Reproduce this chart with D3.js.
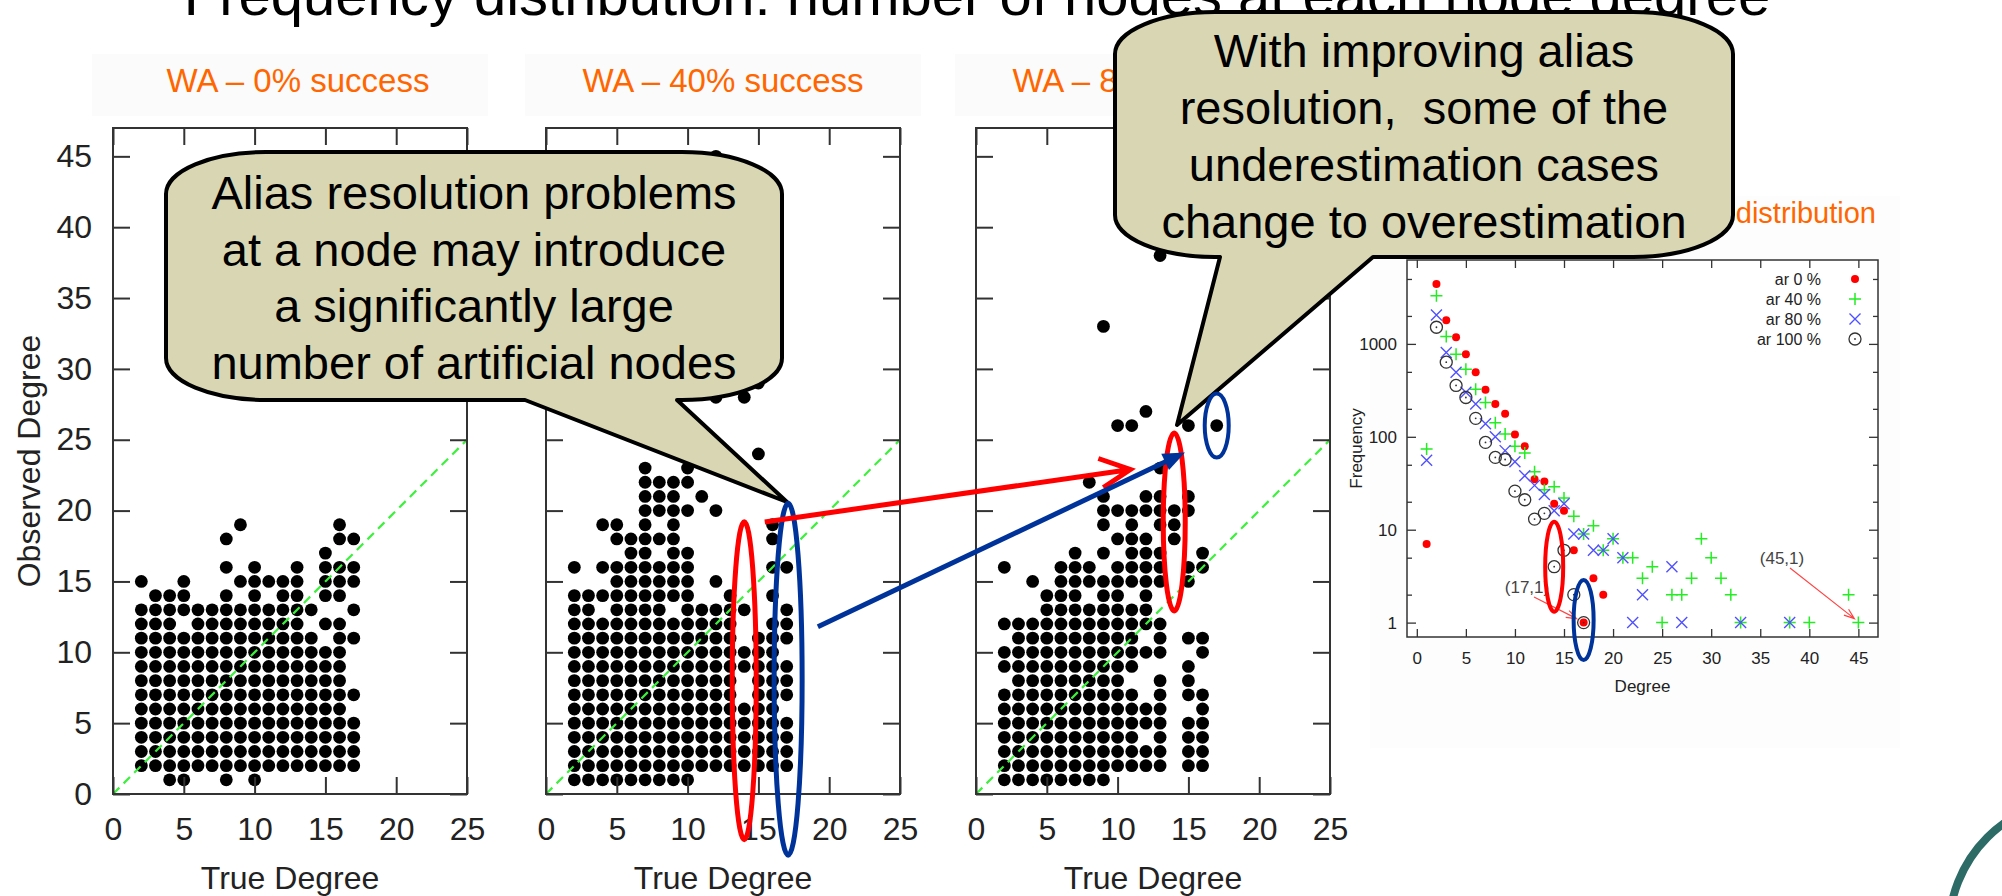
<!DOCTYPE html>
<html>
<head>
<meta charset="utf-8">
<script src="https://cdn.jsdelivr.net/npm/d3@7"></script>
<style>
body { margin: 0; background: #fff; }
svg text { font-family: "Liberation Sans", Arial, Helvetica, sans-serif; }
</style>
</head>
<body>
<svg id="slide" width="2002" height="896"></svg>
<script>
// ---- data ----
var slideTitle = "Frequency distribution: number of nodes at each node degree";
var panelTitles = ["WA \u2013 0% success", "WA \u2013 40% success", "WA \u2013 80% success"];
var trueTicks = [0, 5, 10, 15, 20, 25];
var obsTicks = [0, 5, 10, 15, 20, 25, 30, 35, 40, 45];

// each row: [observed degree, [true degrees that have a node]]
var wa0 = [
	[1, [4, 5, 8, 10]],
	[2, [2, 3, 4, 5, 6, 7, 8, 9, 10, 11, 12, 13, 14, 15, 16, 17]],
	[3, [2, 3, 4, 5, 6, 7, 8, 9, 10, 11, 12, 13, 14, 15, 16, 17]],
	[4, [2, 3, 4, 5, 6, 7, 8, 9, 10, 11, 12, 13, 14, 15, 16, 17]],
	[5, [2, 3, 4, 5, 6, 7, 8, 9, 10, 11, 12, 13, 14, 15, 16, 17]],
	[6, [2, 3, 4, 5, 6, 7, 8, 9, 10, 11, 12, 13, 14, 15, 16]],
	[7, [2, 3, 4, 5, 6, 7, 8, 9, 10, 11, 12, 13, 14, 15, 16, 17]],
	[8, [2, 3, 4, 5, 6, 7, 8, 9, 10, 11, 12, 13, 14, 15, 16]],
	[9, [2, 3, 4, 5, 6, 7, 8, 9, 10, 11, 12, 13, 14, 15, 16]],
	[10, [2, 3, 4, 5, 6, 7, 8, 9, 10, 11, 12, 13, 14, 15, 16]],
	[11, [2, 3, 4, 5, 6, 7, 8, 9, 10, 11, 12, 13, 14, 16, 17]],
	[12, [2, 3, 4, 6, 7, 8, 9, 10, 11, 12, 13, 15, 16]],
	[13, [2, 3, 4, 5, 6, 7, 8, 9, 10, 11, 12, 13, 14, 17]],
	[14, [3, 4, 5, 8, 10, 12, 13, 15, 16]],
	[15, [2, 5, 9, 10, 11, 12, 13, 15, 16, 17]],
	[16, [8, 10, 13, 15, 16, 17]],
	[17, [15]],
	[18, [8, 16, 17]],
	[19, [9, 16]]
];
var wa40 = [
	[1, [2, 3, 4, 5, 6, 7, 8, 9, 10]],
	[2, [2, 3, 4, 5, 6, 7, 8, 9, 10, 11, 12, 13, 14, 15, 16, 17]],
	[3, [2, 3, 4, 5, 6, 7, 8, 9, 10, 11, 12, 13, 14, 15, 16, 17]],
	[4, [2, 3, 4, 5, 6, 7, 8, 9, 10, 11, 12, 13, 14, 15, 16, 17]],
	[5, [2, 3, 4, 5, 6, 7, 8, 9, 10, 11, 12, 13, 14, 15, 16, 17]],
	[6, [2, 3, 4, 5, 6, 7, 8, 9, 10, 11, 12, 13, 14, 15, 16]],
	[7, [2, 3, 4, 5, 6, 7, 8, 9, 10, 11, 12, 13, 15, 16, 17]],
	[8, [2, 3, 4, 5, 6, 7, 8, 9, 10, 11, 12, 13, 15, 16, 17]],
	[9, [2, 3, 4, 5, 6, 7, 8, 9, 10, 11, 12, 13, 14, 15, 16, 17]],
	[10, [2, 3, 4, 5, 6, 7, 8, 9, 10, 11, 12, 13, 14, 15, 16]],
	[11, [2, 3, 4, 5, 6, 7, 8, 9, 10, 11, 12, 13, 15, 16, 17]],
	[12, [2, 3, 4, 5, 6, 7, 8, 9, 10, 11, 12, 13, 16, 17]],
	[13, [2, 3, 5, 6, 7, 8, 10, 11, 12, 13, 14, 17]],
	[14, [2, 3, 4, 5, 6, 7, 8, 9, 10, 13, 16]],
	[15, [5, 6, 7, 8, 9, 10, 12]],
	[16, [2, 4, 5, 6, 7, 8, 9, 10, 16, 17]],
	[17, [6, 7, 9, 10]],
	[18, [5, 6, 7, 8, 9, 16]],
	[19, [4, 5, 7, 9, 16]],
	[20, [7, 8, 9, 10, 12]],
	[21, [7, 8, 9, 11]],
	[22, [7, 8, 9, 10]],
	[23, [7, 10]],
	[24, [15]],
	[28, [12, 14]],
	[29, [15]],
	[45, [12]]
];
var wa80 = [
	[1, [2, 3, 4, 5, 6, 7, 8, 9]],
	[2, [2, 3, 4, 5, 6, 7, 8, 9, 10, 11, 12, 13, 15, 16]],
	[3, [2, 3, 4, 5, 6, 7, 8, 9, 10, 11, 12, 13, 15, 16]],
	[4, [2, 3, 4, 5, 6, 7, 8, 9, 10, 11, 13, 15, 16]],
	[5, [2, 3, 4, 5, 6, 7, 8, 9, 10, 11, 12, 13, 15, 16]],
	[6, [2, 3, 4, 5, 6, 7, 8, 9, 10, 11, 12, 13, 16]],
	[7, [2, 3, 4, 5, 6, 7, 8, 9, 10, 11, 13, 15, 16]],
	[8, [3, 4, 5, 6, 7, 8, 9, 10, 13, 15]],
	[9, [2, 3, 4, 5, 6, 7, 8, 9, 10, 11, 15]],
	[10, [2, 3, 4, 5, 6, 7, 8, 9, 10, 11, 12, 13, 16]],
	[11, [3, 4, 5, 6, 7, 8, 9, 10, 11, 13, 15, 16]],
	[12, [2, 3, 4, 5, 6, 7, 8, 9, 10, 11, 12, 13]],
	[13, [5, 6, 7, 8, 9, 10, 11, 12]],
	[14, [5, 6, 7, 9, 10, 12]],
	[15, [4, 6, 7, 8, 9, 10, 11, 12, 13, 15]],
	[16, [2, 6, 7, 8, 10, 11, 12, 13, 15, 16]],
	[17, [7, 9, 11, 12, 13, 16]],
	[18, [10, 11, 12, 14]],
	[19, [9, 11, 13, 14]],
	[20, [9, 10, 11, 12, 13, 14, 15]],
	[21, [9, 12, 13, 15]],
	[22, [8]],
	[23, [13]],
	[26, [10, 11, 15, 17]],
	[27, [12]],
	[33, [9]],
	[38, [13]]
];

// degree distribution (log scale), [degree, frequency]
var freqTitle = "Degree distribution";
var degTicks = [0, 5, 10, 15, 20, 25, 30, 35, 40, 45];
var freqTicks = [1, 10, 100, 1000];
var freqMinor = [2, 5, 20, 50, 200, 500, 2000, 5000];
var seriesNames = ["ar 0 %", "ar 40 %", "ar 80 %", "ar 100 %"];
var ar0 = [[1, 7], [2, 4400], [3, 1800], [4, 1180], [5, 775], [6, 496], [7, 320], [8, 226], [9, 177], [10, 106],
	[11, 79], [12, 35], [13, 33], [14, 19], [15, 16], [16, 6], [17, 1], [18, 3], [19, 2]];
var ar40 = [[1, 74], [2, 3300], [3, 1200], [4, 775], [5, 534], [6, 325], [7, 234], [8, 142], [9, 107], [10, 79],
	[11, 67], [12, 42], [13, 27], [14, 29], [15, 22], [16, 14], [17, 9], [18, 11], [19, 6], [20, 8],
	[21, 5], [22, 5], [23, 3], [24, 4], [25, 1], [26, 2], [27, 2], [28, 3], [29, 8], [30, 5],
	[31, 3], [32, 2], [33, 1], [38, 1], [40, 1], [44, 2], [45, 1]];
var ar80 = [[1, 56], [2, 2050], [3, 807], [4, 496], [5, 302], [6, 225], [7, 138], [8, 100], [9, 71], [10, 54],
	[11, 38], [12, 30], [13, 24], [14, 16], [15, 19], [16, 9], [17, 9], [18, 6], [19, 6], [20, 8],
	[21, 5], [22, 1], [23, 2], [26, 4], [27, 1], [33, 1], [38, 1]];
var ar100 = [[2, 1510], [3, 636], [4, 357], [5, 265], [6, 158], [7, 87], [8, 60], [9, 57], [10, 26],
	[11, 21], [12, 13], [13, 15], [14, 4], [15, 6], [16, 2], [17, 1]];

var callout1 = ["Alias resolution problems", "at a node may introduce", "a significantly large", "number of artificial nodes"];
var callout2 = ["With improving alias", "resolution,  some of the", "underestimation cases", "change to overestimation"];

// ---- drawing ----
var svg = d3.select("#slide");
var ORANGE = "#ff6600", AXIS = "#333", LABEL = "#222";
var RED = "#ff0000", BLUE = "#003399";

// slide title (cut off by the top edge)
svg.append("text")
	.attr("x", 977).attr("y", 15)
	.attr("text-anchor", "middle")
	.attr("font-size", 58)
	.text(slideTitle);

var panelLeft = [113, 546, 976],
	pw = 354, pTop = 128, pBottom = 794,
	panels = [wa0, wa40, wa80],
	px = [], py = [];

function styleAxis(sel, size) {
	sel.attr("font-size", size).attr("font-family", null).attr("color", LABEL);
	sel.select(".domain").remove();
	sel.selectAll("line").attr("stroke", AXIS).attr("stroke-width", 2);
}

panels.forEach(function (rows, i) {
	var left = panelLeft[i],
		x = d3.scaleLinear().domain([0, 25]).range([left, left + pw]),
		y = d3.scaleLinear().domain([0, 47]).range([pBottom, pTop]),
		g = svg.append("g");
	px.push(x); py.push(y);

	// faint title box and title
	g.append("rect")
		.attr("x", left - 21).attr("y", 54).attr("width", pw + 42).attr("height", 62)
		.attr("fill", "#fbfbfb");
	g.append("text")
		.attr("x", left + pw / 2 + (i === 0 ? 8 : 0)).attr("y", 92)
		.attr("text-anchor", "middle")
		.attr("font-size", 33)
		.attr("fill", ORANGE)
		.text(panelTitles[i]);

	var pts = [];
	rows.forEach(function (r) {
		r[1].forEach(function (d) { pts.push([d, r[0]]); });
	});

	g.append("g").selectAll("circle")
		.data(pts)
		.enter().append("circle")
		.attr("cx", function (d) { return x(d[0]); })
		.attr("cy", function (d) { return y(d[1]); })
		.attr("r", 6.4)
		.attr("fill", "#000");

	// y = x reference
	g.append("line")
		.attr("x1", x(0)).attr("y1", y(0))
		.attr("x2", x(25)).attr("y2", y(25))
		.attr("stroke", "#3cf03c").attr("stroke-width", 2.2)
		.attr("stroke-dasharray", "9,6");

	// axes, ticks pointing inwards on all four sides
	g.append("g").attr("transform", "translate(0," + pBottom + ")")
		.call(d3.axisBottom(x).tickValues(trueTicks).tickSizeInner(-17).tickSizeOuter(0).tickPadding(23))
		.call(styleAxis, 32);
	g.append("g").attr("transform", "translate(0," + pTop + ")")
		.call(d3.axisTop(x).tickValues(trueTicks).tickSizeInner(-17).tickSizeOuter(0).tickFormat(""))
		.call(styleAxis, 32);
	g.append("g").attr("transform", "translate(" + left + ",0)")
		.call(d3.axisLeft(y).tickValues(obsTicks).tickSizeInner(-17).tickSizeOuter(0).tickPadding(21)
			.tickFormat(i === 0 ? d3.format("d") : ""))
		.call(styleAxis, 32);
	g.append("g").attr("transform", "translate(" + (left + pw) + ",0)")
		.call(d3.axisRight(y).tickValues(obsTicks).tickSizeInner(-17).tickSizeOuter(0).tickFormat(""))
		.call(styleAxis, 32);

	g.append("rect")
		.attr("x", left).attr("y", pTop).attr("width", pw).attr("height", pBottom - pTop)
		.attr("fill", "none").attr("stroke", AXIS).attr("stroke-width", 2);

	g.append("text")
		.attr("x", left + pw / 2).attr("y", 889)
		.attr("text-anchor", "middle").attr("font-size", 32).attr("fill", LABEL)
		.text("True Degree");
	if (i === 0) {
		g.append("text")
			.attr("transform", "translate(40," + (pTop + pBottom) / 2 + ") rotate(-90)")
			.attr("text-anchor", "middle").attr("font-size", 32).attr("fill", LABEL)
			.text("Observed Degree");
	}
});

// ---- degree distribution chart ----
var fL = 1407, fR = 1878, fT = 260, fB = 637;
var xF = d3.scaleLinear().domain([-1, 47]).range([fL, fR]);
var yF = d3.scaleLog().domain([0.7, 8000]).range([fB, fT]);
var fg = svg.append("g");

fg.append("rect").attr("x", 1370).attr("y", 196).attr("width", 530).attr("height", 552).attr("fill", "#fdfdfd");
fg.append("text")
	.attr("x", 1876).attr("y", 223)
	.attr("text-anchor", "end").attr("font-size", 29).attr("fill", ORANGE)
	.text(freqTitle);
fg.append("rect").attr("x", fL).attr("y", fT).attr("width", fR - fL).attr("height", fB - fT).attr("fill", "#fff");

fg.append("g").attr("transform", "translate(0," + fB + ")")
	.call(d3.axisBottom(xF).tickValues(degTicks).tickSizeInner(-8).tickSizeOuter(0).tickPadding(15))
	.call(styleAxis, 17);
fg.append("g").attr("transform", "translate(0," + fT + ")")
	.call(d3.axisTop(xF).tickValues(degTicks).tickSizeInner(-8).tickSizeOuter(0).tickFormat(""))
	.call(styleAxis, 17);
fg.append("g").attr("transform", "translate(" + fL + ",0)")
	.call(d3.axisLeft(yF).tickValues(freqTicks).tickSizeInner(-9).tickSizeOuter(0).tickPadding(10).tickFormat(d3.format("d")))
	.call(styleAxis, 17);
fg.append("g").attr("transform", "translate(" + fR + ",0)")
	.call(d3.axisRight(yF).tickValues(freqTicks).tickSizeInner(-9).tickSizeOuter(0).tickFormat(""))
	.call(styleAxis, 17);
fg.append("g").attr("transform", "translate(" + fL + ",0)")
	.call(d3.axisLeft(yF).tickValues(freqMinor).tickSizeInner(-5).tickSizeOuter(0).tickFormat(""))
	.call(styleAxis, 17);
fg.append("g").attr("transform", "translate(" + fR + ",0)")
	.call(d3.axisRight(yF).tickValues(freqMinor).tickSizeInner(-5).tickSizeOuter(0).tickFormat(""))
	.call(styleAxis, 17);
fg.selectAll("line").attr("stroke-width", 1.3);
fg.append("rect").attr("x", fL).attr("y", fT).attr("width", fR - fL).attr("height", fB - fT)
	.attr("fill", "none").attr("stroke", AXIS).attr("stroke-width", 1.5);

fg.append("text").attr("x", (fL + fR) / 2).attr("y", 692)
	.attr("text-anchor", "middle").attr("font-size", 17).attr("fill", LABEL).text("Degree");
fg.append("text").attr("transform", "translate(1362," + (fT + fB) / 2 + ") rotate(-90)")
	.attr("text-anchor", "middle").attr("font-size", 17).attr("fill", LABEL).text("Frequency");

// point symbols
var symbols = [
	function (s) { s.append("circle").attr("r", 4).attr("fill", RED); },
	function (s) { s.append("path").attr("d", "M-6,0H6M0,-6V6").attr("stroke", "#22ee22").attr("stroke-width", 1.5); },
	function (s) { s.append("path").attr("d", "M-5.5,-5.5L5.5,5.5M-5.5,5.5L5.5,-5.5").attr("stroke", "#5050ff").attr("stroke-width", 1.4); },
	function (s) {
		s.append("circle").attr("r", 6).attr("fill", "none").attr("stroke", "#333").attr("stroke-width", 1.3);
		s.append("circle").attr("r", 0.9).attr("fill", "#333");
	}
];
[ar0, ar40, ar80, ar100].forEach(function (series, k) {
	fg.append("g").selectAll("g")
		.data(series)
		.enter().append("g")
		.attr("transform", function (d) { return "translate(" + xF(d[0]) + "," + yF(d[1]) + ")"; })
		.each(function () { symbols[k](d3.select(this)); });
});

// legend
var legend = fg.append("g").selectAll("g")
	.data(seriesNames)
	.enter().append("g")
	.attr("transform", function (d, i) { return "translate(0," + (279 + i * 20) + ")"; });
legend.append("text")
	.attr("x", 1821).attr("dy", "0.35em")
	.attr("text-anchor", "end").attr("font-size", 16).attr("fill", LABEL)
	.text(function (d) { return d; });
legend.each(function (d, i) {
	var s = d3.select(this).append("g").attr("transform", "translate(1855,0)");
	symbols[i](s);
});

// point annotations
function thinArrow(g, x1, y1, x2, y2) {
	var a = Math.atan2(y2 - y1, x2 - x1), h = 11;
	g.append("path")
		.attr("d", "M" + x1 + "," + y1 + "L" + x2 + "," + y2 +
			"M" + (x2 - h * Math.cos(a - 0.35)) + "," + (y2 - h * Math.sin(a - 0.35)) + "L" + x2 + "," + y2 +
			"L" + (x2 - h * Math.cos(a + 0.35)) + "," + (y2 - h * Math.sin(a + 0.35)))
		.attr("fill", "none").attr("stroke", "#ff4444").attr("stroke-width", 1.2);
}
fg.append("text").attr("x", 1527).attr("y", 593).attr("text-anchor", "middle").attr("font-size", 17).attr("fill", "#444").text("(17,1)");
thinArrow(fg, 1534, 597, xF(17) - 7, yF(1) - 4);
fg.append("text").attr("x", 1782).attr("y", 564).attr("text-anchor", "middle").attr("font-size", 17).attr("fill", "#444").text("(45,1)");
thinArrow(fg, 1790, 568, xF(45) - 4, yF(1) - 4);

// ---- callouts ----
function calloutPath(l, t, r, b, rx, ry, baseR, baseL, tip) {
	return "M" + (l + rx) + "," + t + "H" + (r - rx) +
		"A" + rx + "," + ry + " 0 0 1 " + r + "," + (t + ry) +
		"V" + (b - ry) +
		"A" + rx + "," + ry + " 0 0 1 " + (r - rx) + "," + b +
		"H" + baseR + "L" + tip[0] + "," + tip[1] + "L" + baseL + "," + b +
		"H" + (l + rx) +
		"A" + rx + "," + ry + " 0 0 1 " + l + "," + (b - ry) +
		"V" + (t + ry) +
		"A" + rx + "," + ry + " 0 0 1 " + (l + rx) + "," + t + "Z";
}
function callout(box, lines, firstBase, step) {
	svg.append("path")
		.attr("d", calloutPath(box.l, box.t, box.r, box.b, 100, 42, box.baseR, box.baseL, box.tip))
		.attr("fill", "#d9d7b3").attr("stroke", "#000").attr("stroke-width", 4)
		.attr("stroke-linejoin", "round");
	svg.append("g").selectAll("text")
		.data(lines)
		.enter().append("text")
		.attr("x", (box.l + box.r) / 2)
		.attr("y", function (d, i) { return firstBase + i * step; })
		.attr("text-anchor", "middle").attr("font-size", 47).attr("fill", "#000")
		.style("white-space", "pre")
		.text(function (d) { return d; });
}
callout({ l: 166, t: 152, r: 782, b: 400, baseR: 677, baseL: 525, tip: [787, 502] }, callout1, 209, 56.7);
callout({ l: 1115, t: 12, r: 1733, b: 257, baseR: 1373, baseL: 1220, tip: [1177, 425] }, callout2, 67, 57);

// ---- highlight ellipses and arrows ----
function ring(cx, cy, rx, ry, color, w) {
	svg.append("ellipse")
		.attr("cx", cx).attr("cy", cy).attr("rx", rx).attr("ry", ry)
		.attr("fill", "none").attr("stroke", color).attr("stroke-width", w);
}
ring(px[1](14), py[1](8), 12, 159, RED, 5);
ring(px[1](17.1), py[1](8.1), 14, 176, BLUE, 5);
ring(px[2](14), py[2](19.2), 11, 89, RED, 5);
ring(px[2](17), py[2](26), 12, 32, BLUE, 4);
ring(xF(14), yF(4), 9, 45, RED, 4);
ring(xF(17), yF(1.07), 10, 40, BLUE, 4);

// red arrow with open head
var r0 = [px[1](15.45), py[1](19.2)], r1 = [px[2](10.9), py[2](22.9)];
svg.append("path")
	.attr("d", "M" + r0 + "L" + r1 + "M" + (r1[0] - 32) + "," + (r1[1] - 11) + "L" + r1 + "L" + (r1[0] - 27) + "," + (r1[1] + 18))
	.attr("fill", "none").attr("stroke", RED).attr("stroke-width", 5);

// blue arrow with filled head
var b0 = [px[1](19.2), py[1](11.8)], b1 = [px[2](14.76), py[2](24.1)];
var bl = Math.hypot(b1[0] - b0[0], b1[1] - b0[1]),
	ux = (b1[0] - b0[0]) / bl, uy = (b1[1] - b0[1]) / bl;
svg.append("line")
	.attr("x1", b0[0]).attr("y1", b0[1])
	.attr("x2", b1[0] - 14 * ux).attr("y2", b1[1] - 14 * uy)
	.attr("stroke", BLUE).attr("stroke-width", 5);
svg.append("path")
	.attr("d", "M" + b1[0] + "," + b1[1] +
		"L" + (b1[0] - 22 * ux - 9 * uy) + "," + (b1[1] - 22 * uy + 9 * ux) +
		"L" + (b1[0] - 22 * ux + 9 * uy) + "," + (b1[1] - 22 * uy - 9 * ux) + "Z")
	.attr("fill", BLUE);

// slide decoration, bottom right
svg.append("circle")
	.attr("cx", 2080).attr("cy", 930).attr("r", 131)
	.attr("fill", "none").attr("stroke", "#2d6b66").attr("stroke-width", 8);
</script>
</body>
</html>
